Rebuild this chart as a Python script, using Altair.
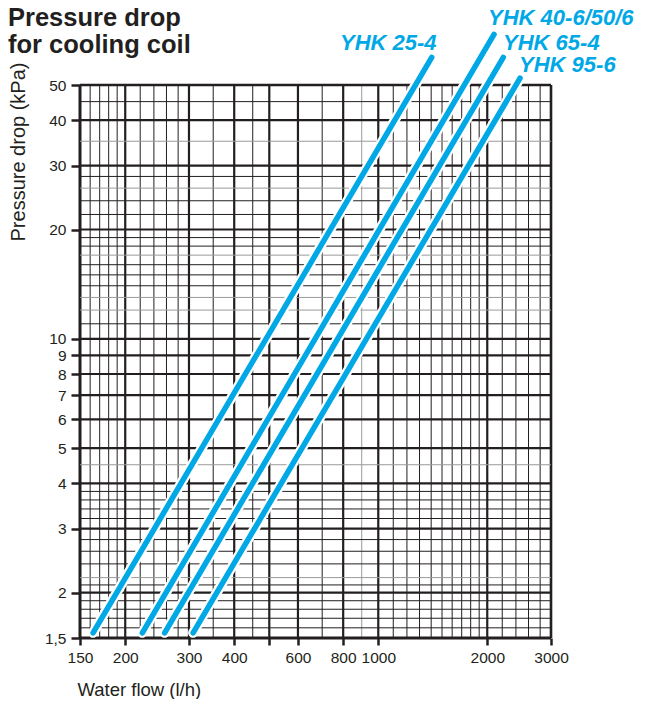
import altair as alt
import pandas as pd

# ---- data ----
models = ["YHK 25-4", "YHK 40-6/50/6", "YHK 65-4", "YHK 95-6"]
flow_start = [163, 223, 257, 308]          # l/h at the lower end of each line
kpa_start = [1.55, 1.55, 1.55, 1.55]
flow_end = [1405, 2088, 2215, 2464]        # l/h at the upper end of each line
kpa_end = [59.6, 68.9, 59.6, 52.2]
label_flow = [784, 2010, 2211, 2448]       # where each model name sits
label_kpa = [62.4, 73.2, 62.4, 54.3]

x_ticks = [150, 200, 300, 400, 500, 600, 800, 1000, 2000, 3000]
y_ticks = [1.5, 2, 3, 4, 5, 6, 7, 8, 9, 10, 20, 30, 40, 50]
x_minor = [160, 170, 180, 190, 220, 240, 260, 280, 350, 450, 700,
           1100, 1200, 1300, 1400, 1500, 1600, 1700, 1800, 1900,
           2200, 2400, 2600, 2800]
x_minor_grey = [900]
y_minor = [1.6, 1.7, 1.8, 1.9, 2.1, 2.4, 2.6, 2.8, 3.2, 3.4, 3.6, 3.8,
           11, 14, 15, 16, 18, 19, 22, 24, 28, 45]
y_minor_grey = [2.2, 4.5, 12, 13, 17, 26, 35]

INK = "#231f20"
GREY = "#9a9a9a"
CYAN = "#00a8e6"
FONT = "Liberation Sans"

# ---- tables ----
def grid_table(major, minor, grey, edge_lo, edge_hi):
    rows = []
    for v in major:
        w = 3.0 if v == edge_lo else (2.6 if v == edge_hi else 2.2)
        rows.append({"v": v, "w": w, "c": INK, "o": 2})
    for v in minor:
        rows.append({"v": v, "w": 1.0, "c": INK, "o": 1})
    for v in grey:
        rows.append({"v": v, "w": 1.0, "c": GREY, "o": 0})
    return pd.DataFrame(rows).sort_values("o")

xg = grid_table(x_ticks, x_minor, x_minor_grey, 150, 3000)
yg = grid_table(y_ticks, y_minor, y_minor_grey, 1.5, 50)

lines_df = pd.DataFrame(
    [{"model": m, "flow": f0, "kpa": p0} for m, f0, p0 in zip(models, flow_start, kpa_start)]
    + [{"model": m, "flow": f1, "kpa": p1} for m, f1, p1 in zip(models, flow_end, kpa_end)]
)
labels_df = pd.DataFrame({"model": models, "flow": label_flow, "kpa": label_kpa})

xs = alt.Scale(type="log", domain=[150, 3000], nice=False)
ys = alt.Scale(type="log", domain=[1.5, 50], nice=False)

x_axis = alt.Axis(
    values=x_ticks,
    labelExpr="datum.value == 500 ? '' : toString(datum.value)",
    domain=False, grid=False,
    tickSize=7, tickWidth=2.5, tickColor=INK,
    labelFont=FONT, labelFontSize=15.5, labelColor=INK, labelPadding=5,
    labelOverlap=False, labelFlush=False,
    title="Water flow (l/h)", titleFont=FONT, titleFontSize=18.5,
    titleFontWeight="normal", titleColor=INK,
    titleX=-3, titleY=57, titleAlign="left", titleBaseline="alphabetic",
)
y_axis = alt.Axis(
    values=y_ticks,
    labelExpr="replace(toString(datum.value), '.', ',')",
    domain=False, grid=False,
    tickSize=9, tickWidth=2.5, tickColor=INK,
    labelFont=FONT, labelFontSize=15.5, labelColor=INK, labelPadding=5,
    labelOverlap=False, labelFlush=False,
    title="Pressure drop (kPa)", titleFont=FONT, titleFontSize=20,
    titleFontWeight="normal", titleColor=INK,
    titleAngle=270, titleX=-62, titleY=-23, titleAlign="right",
    titleBaseline="middle",
)

X = lambda f: alt.X(f, scale=xs, axis=x_axis)
Y = lambda f: alt.Y(f, scale=ys, axis=y_axis)

xgrid = alt.Chart(xg).mark_rule().encode(
    x=X("v:Q"),
    strokeWidth=alt.StrokeWidth("w:Q", scale=None),
    color=alt.Color("c:N", scale=None),
)
ygrid = alt.Chart(yg).mark_rule().encode(
    y=Y("v:Q"),
    strokeWidth=alt.StrokeWidth("w:Q", scale=None),
    color=alt.Color("c:N", scale=None),
)
halo = alt.Chart(lines_df).mark_line(color="white", strokeWidth=10, strokeCap="round").encode(
    x=X("flow:Q"), y=Y("kpa:Q"), detail="model:N",
)
line = alt.Chart(lines_df).mark_line(color=CYAN, strokeWidth=5.5, strokeCap="round").encode(
    x=X("flow:Q"), y=Y("kpa:Q"), detail="model:N",
)
text = alt.Chart(labels_df).mark_text(
    align="left", baseline="alphabetic", font=FONT, fontSize=22,
    fontWeight="bold", fontStyle="italic", color=CYAN,
).encode(
    x=X("flow:Q"), y=Y("kpa:Q"), text="model:N",
)

chart = alt.layer(xgrid, ygrid, halo, line, text).properties(
    width=471,
    height=553,
    title=alt.TitleParams(
        text=["Pressure drop", "for cooling coil"],
        anchor="start", frame="group", font=FONT, fontSize=25.5,
        fontWeight="bold", color=INK, lineHeight=27,
        dx=-72, offset=0, dy=52,
    ),
    autosize=alt.AutoSizeParams(type="none"),
    padding={"left": 72, "top": 77, "right": 87, "bottom": 61},
).configure_view(stroke=None)

chart.save("out.html", embed_options={"renderer": "svg", "actions": False})
